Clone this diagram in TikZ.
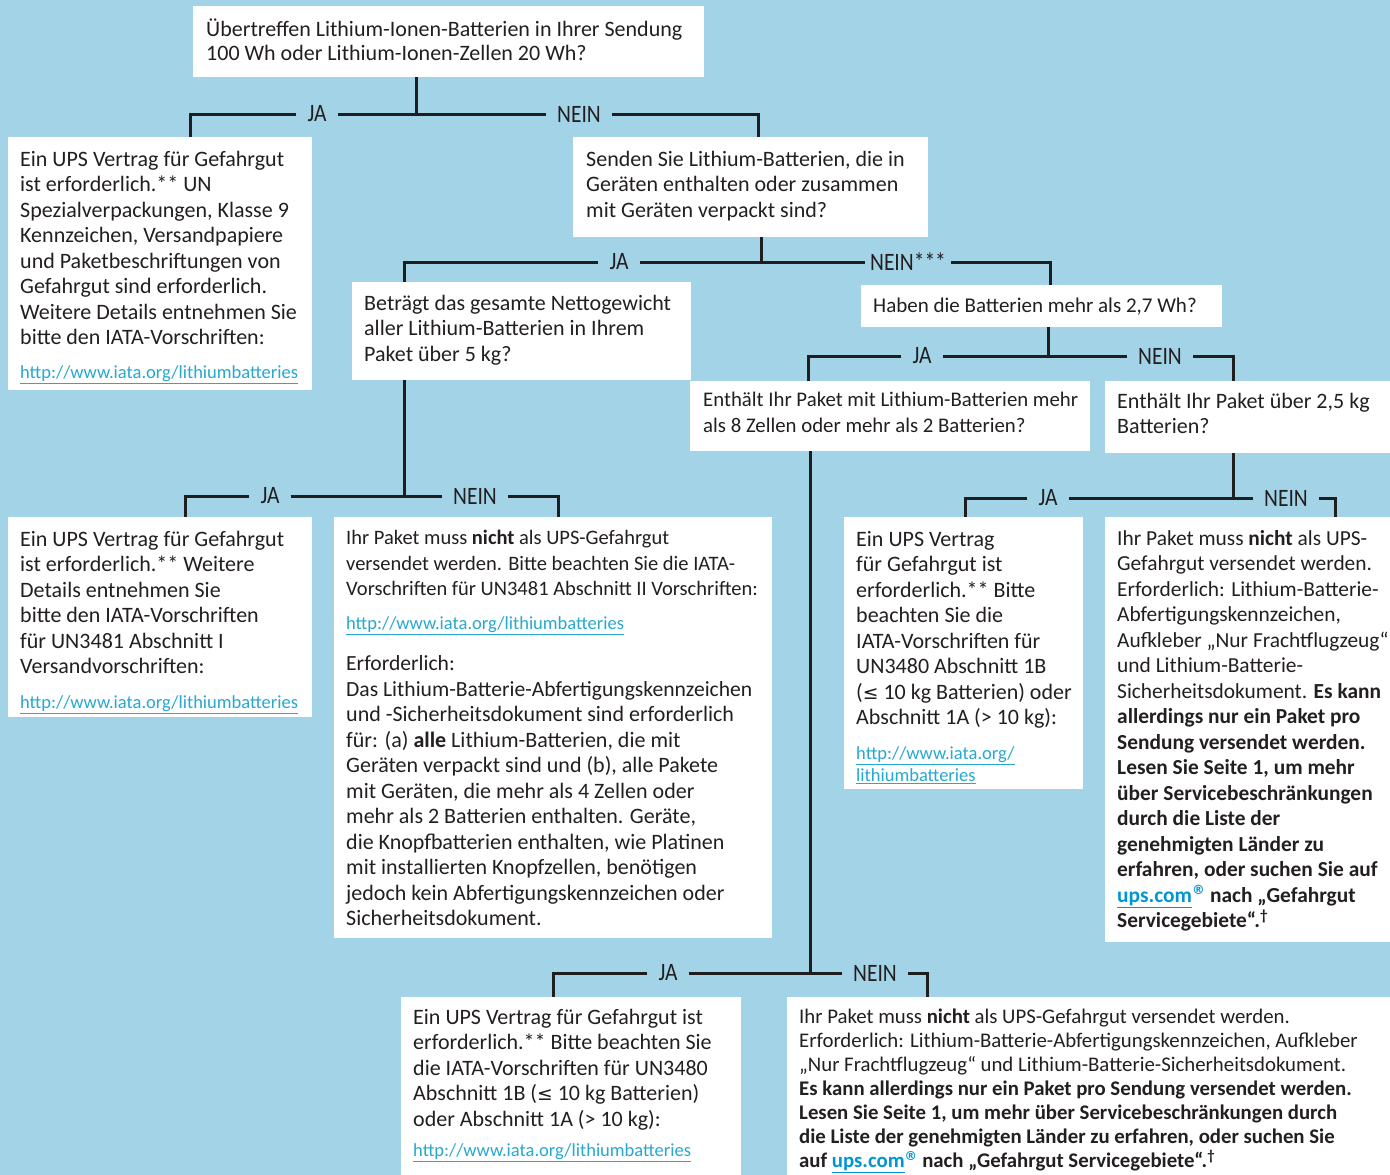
\documentclass[tikz,border=0pt]{standalone}
\usepackage{fontspec}
\setmainfont{Carlito}
\newfontfamily\condfont[FakeStretch=0.86]{Carlito}
\newfontfamily\symfont[Scale=0.85]{DejaVu Sans}
\usetikzlibrary{calc}

\definecolor{bgblue}{RGB}{162,211,230}
\definecolor{textgray}{RGB}{35,31,32}
\definecolor{linegray}{RGB}{30,30,30}
\definecolor{linkcyan}{RGB}{38,168,208}
\definecolor{upsblue}{RGB}{0,150,214}

\newcommand{\iatalink}[1]{{\fontsize{18.5}{22}\selectfont\color{linkcyan}\underline{#1}}}
\newcommand{\upslink}{{\color{upsblue}\underline{ups.com}\textsuperscript{\symfont ®}}}
\newcommand{\lesym}{{\symfont ≤}}

\begin{document}
\begin{tikzpicture}[x=1pt, y=-1pt,
    box/.style={fill=white, anchor=north west, inner sep=0pt},
    txt/.style={anchor=north west, align=left, inner sep=0pt, text=textgray,
        font=\fontsize{22}{25.5}\selectfont,
        execute at begin node={\rule{0pt}{17pt}}},
    yesno/.style={fill=bgblue, text=textgray, inner xsep=11pt, inner ysep=3pt,
        font=\condfont\fontsize{25}{25}\selectfont},
    conn/.style={draw=linegray, line width=3pt}]

    % Hintergrund
    \fill[bgblue] (0,0) rectangle (1390,1175);
    \useasboundingbox (0,0) rectangle (1390,1175);

    % Fragen
    \node[box, minimum width=511, minimum height=71] (q1) at (193,6) {};
    \node[box, minimum width=355, minimum height=100] (q2) at (573,137) {};
    \node[box, minimum width=339, minimum height=98] (q3) at (352,282) {};
    \node[box, minimum width=361, minimum height=42] (q4) at (861,285) {};
    \node[box, minimum width=400, minimum height=70] (q5) at (690,381) {};
    \node[box, minimum width=285, minimum height=72] (q6) at (1105,381) {};

    % Antworten
    \node[box, minimum width=304, minimum height=253] (a1) at (8,137) {};
    \node[box, minimum width=304, minimum height=200] (a2) at (8,517) {};
    \node[box, minimum width=438, minimum height=421] (a3) at (334,517) {};
    \node[box, minimum width=239, minimum height=272] (a4) at (844,517) {};
    \node[box, minimum width=285, minimum height=425] (a5) at (1105,517) {};
    \node[box, minimum width=340, minimum height=178] (a6) at (401,997) {};
    \node[box, minimum width=603, minimum height=178] (a7) at (787,997) {};

    % Texte der Fragen
    \node[txt, font=\fontsize{22}{24}\selectfont] (q1t) at ([shift={(13,13)}]q1.north west)
        {Übertreffen Lithium-Ionen-Batterien in Ihrer Sendung\\
         100 Wh oder Lithium-Ionen-Zellen 20 Wh?};
    \node[txt] (q2t) at ([shift={(13,14)}]q2.north west)
        {Senden Sie Lithium-Batterien, die in\\
         Geräten enthalten oder zusammen\\
         mit Geräten verpackt sind?};
    \node[txt] (q3t) at ([shift={(12,13)}]q3.north west)
        {Beträgt das gesamte Nettogewicht\\
         aller Lithium-Batterien in Ihrem\\
         Paket über 5 kg?};
    \node[txt, font=\fontsize{21}{25.5}\selectfont] (q4t) at ([shift={(12,10)}]q4.north west)
        {Haben die Batterien mehr als 2,7 Wh?};
    \node[txt, font=\fontsize{20.8}{25.5}\selectfont] (q5t) at ([shift={(13,11)}]q5.north west)
        {Enthält Ihr Paket mit Lithium-Batterien mehr\\
         als 8 Zellen oder mehr als 2 Batterien?};
    \node[txt] (q6t) at ([shift={(12,12)}]q6.north west)
        {Enthält Ihr Paket über 2,5 kg\\
         Batterien?};

    % Texte der Antworten
    \node[txt] (a1t) at ([shift={(12,14)}]a1.north west)
        {Ein UPS Vertrag für Gefahrgut\\
         ist erforderlich.** UN\\
         Spezialverpackungen, Klasse 9\\
         Kennzeichen, Versandpapiere\\
         und Paketbeschriftungen von\\
         Gefahrgut sind erforderlich.\\
         Weitere Details entnehmen Sie\\
         bitte den IATA-Vorschriften:\\[8.5pt]
         \iatalink{http://www.iata.org/lithiumbatteries}};
    \node[txt] (a2t) at ([shift={(12,14)}]a2.north west)
        {Ein UPS Vertrag für Gefahrgut\\
         ist erforderlich.** Weitere\\
         Details entnehmen Sie\\
         bitte den IATA-Vorschriften\\
         für UN3481 Abschnitt I\\
         Versandvorschriften:\\[9.5pt]
         \iatalink{http://www.iata.org/lithiumbatteries}};
    \node[txt] (a3t) at ([shift={(12,13)}]a3.north west)
        {{\fontsize{20.5}{25.5}\selectfont Ihr Paket muss \textbf{nicht} als UPS-Gefahrgut}\\
         {\fontsize{20.5}{25.5}\selectfont versendet werden. Bitte beachten Sie die IATA-}\\
         {\fontsize{20.5}{25.5}\selectfont Vorschriften für UN3481 Abschnitt II Vorschriften:}\\[8.5pt]
         \iatalink{http://www.iata.org/lithiumbatteries}\\[15.5pt]
         {\fontsize{21.6}{25.5}\selectfont Erforderlich:}\\
         {\fontsize{21.6}{25.5}\selectfont Das Lithium-Batterie-Abfertigungskennzeichen}\\
         und -Sicherheitsdokument sind erforderlich\\
         für: (a) \textbf{alle} Lithium-Batterien, die mit\\
         Geräten verpackt sind und (b), alle Pakete\\
         mit Geräten, die mehr als 4 Zellen oder\\
         mehr als 2 Batterien enthalten. Geräte,\\
         die Knopfbatterien enthalten, wie Platinen\\
         mit installierten Knopfzellen, benötigen\\
         jedoch kein Abfertigungskennzeichen oder\\
         Sicherheitsdokument.};
    \node[txt] (a4t) at ([shift={(12,14)}]a4.north west)
        {Ein UPS Vertrag\\
         für Gefahrgut ist\\
         erforderlich.** Bitte\\
         beachten Sie die\\
         IATA-Vorschriften für\\
         UN3480 Abschnitt 1B\\
         (\lesym{} 10 kg Batterien) oder\\
         Abschnitt 1A (> 10 kg):\\[9.5pt]
         \iatalink{http://www.iata.org/}\\[-3.5pt]
         \iatalink{lithiumbatteries}};
    \node[txt, font=\fontsize{21.4}{25.5}\selectfont] (a5t) at ([shift={(12,13)}]a5.north west)
        {Ihr Paket muss \textbf{nicht} als UPS-\\
         Gefahrgut versendet werden.\\
         Erforderlich: Lithium-Batterie-\\
         Abfertigungskennzeichen,\\
         Aufkleber „Nur Frachtflugzeug“\\
         und Lithium-Batterie-\\
         Sicherheitsdokument. \textbf{Es kann}\\
         \textbf{allerdings nur ein Paket pro}\\
         \textbf{Sendung versendet werden.}\\
         \textbf{Lesen Sie Seite 1, um mehr}\\
         \textbf{über Servicebeschränkungen}\\
         \textbf{durch die Liste der}\\
         \textbf{genehmigten Länder zu}\\
         \textbf{erfahren, oder suchen Sie auf}\\
         \textbf{\upslink{} nach „Gefahrgut}\\
         \textbf{Servicegebiete“.\textsuperscript{†}}};
    \node[txt] (a6t) at ([shift={(12,12)}]a6.north west)
        {Ein UPS Vertrag für Gefahrgut ist\\
         erforderlich.** Bitte beachten Sie\\
         die IATA-Vorschriften für UN3480\\
         Abschnitt 1B (\lesym{} 10 kg Batterien)\\
         oder Abschnitt 1A (> 10 kg):\\[4.5pt]
         \iatalink{http://www.iata.org/lithiumbatteries}};
    \node[txt, font=\fontsize{20.8}{24}\selectfont] (a7t) at ([shift={(12,12)}]a7.north west)
        {Ihr Paket muss \textbf{nicht} als UPS-Gefahrgut versendet werden.\\
         Erforderlich: Lithium-Batterie-Abfertigungskennzeichen, Aufkleber\\
         „Nur Frachtflugzeug“ und Lithium-Batterie-Sicherheitsdokument.\\
         \textbf{Es kann allerdings nur ein Paket pro Sendung versendet werden.}\\
         \textbf{Lesen Sie Seite 1, um mehr über Servicebeschränkungen durch}\\
         \textbf{die Liste der genehmigten Länder zu erfahren, oder suchen Sie}\\
         \textbf{auf \upslink{} nach „Gefahrgut Servicegebiete“.\textsuperscript{†}}};

    % JA / NEIN
    \node[yesno] (ja1) at (317,114) {JA};
    \node[yesno] (nein1) at (579,114) {NEIN};
    \node[yesno] (ja2) at (619,262) {JA};
    \node[yesno, inner xsep=5pt] (nein2) at (908,262) {NEIN***};
    \node[yesno] (ja3) at (922,356) {JA};
    \node[yesno] (nein3) at (1160,356) {NEIN};
    \node[yesno] (ja4) at (270,496) {JA};
    \node[yesno] (nein4) at (475,496) {NEIN};
    \node[yesno] (ja5) at (1048,498) {JA};
    \node[yesno] (nein5) at (1286,498) {NEIN};
    \node[yesno] (ja6) at (668,973) {JA};
    \node[yesno] (nein6) at (875,973) {NEIN};

    % Verzweigungen
    \coordinate (f1) at (416,114);
    \coordinate (l1) at (190,114);
    \coordinate (r1) at (758,114);
    \coordinate (f2) at (761,262);
    \coordinate (l2) at (404,262);
    \coordinate (r2) at (1050,262);
    \coordinate (f3) at (1048,356);
    \coordinate (l3) at (808,356);
    \coordinate (r3) at (1233,356);
    \coordinate (f4) at (404,496);
    \coordinate (l4) at (185,496);
    \coordinate (r4) at (558,496);
    \coordinate (f5) at (1233,498);
    \coordinate (l5) at (965,498);
    \coordinate (r5) at (1335,498);
    \coordinate (f6) at (810,973);
    \coordinate (l6) at (553,973);
    \coordinate (r6) at (927,973);

    % Verbindungen
    \draw[conn] (q1.south -| f1) -- (f1);
    \draw[conn] (ja1) -- (nein1);
    \draw[conn] (ja1) -| (a1.north -| l1);
    \draw[conn] (nein1) -| (q2.north -| r1);

    \draw[conn] (q2.south -| f2) -- (f2);
    \draw[conn] (ja2) -- (nein2);
    \draw[conn] (ja2) -| (q3.north -| l2);
    \draw[conn] (nein2) -| (q4.north -| r2);

    \draw[conn] (q4.south -| f3) -- (f3);
    \draw[conn] (ja3) -- (nein3);
    \draw[conn] (ja3) -| (q5.north -| l3);
    \draw[conn] (nein3) -| (q6.north -| r3);

    \draw[conn] (q3.south -| f4) -- (f4);
    \draw[conn] (ja4) -- (nein4);
    \draw[conn] (ja4) -| (a2.north -| l4);
    \draw[conn] (nein4) -| (a3.north -| r4);

    \draw[conn] (q6.south -| f5) -- (f5);
    \draw[conn] (ja5) -- (nein5);
    \draw[conn] (ja5) -| (a4.north -| l5);
    \draw[conn] (nein5) -| (a5.north -| r5);

    \draw[conn] (q5.south -| f6) -- (f6);
    \draw[conn] (ja6) -- (nein6);
    \draw[conn] (ja6) -| (a6.north -| l6);
    \draw[conn] (nein6) -| (a7.north -| r6);
\end{tikzpicture}
\end{document}
